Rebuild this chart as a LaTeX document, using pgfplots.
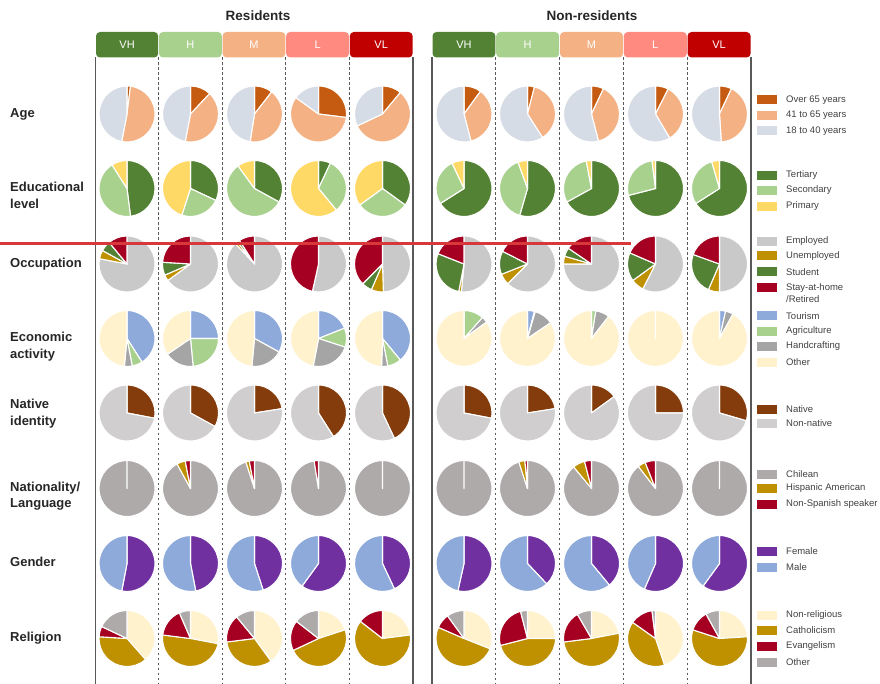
\documentclass[border=0pt]{standalone}
\usepackage{pgfplots}
\pgfplotsset{compat=1.18}
\usepackage{fontspec}
\setmainfont{Liberation Sans}

% Age
\definecolor{aOv}{HTML}{C55A11}
\definecolor{aMid}{HTML}{F4B183}
\definecolor{aYng}{HTML}{D6DCE5}
% Education
\definecolor{eTer}{HTML}{548235}
\definecolor{eSec}{HTML}{A9D18E}
\definecolor{ePri}{HTML}{FFD966}
% Occupation
\definecolor{oEmp}{HTML}{C9C9C9}
\definecolor{oUne}{HTML}{BF9000}
\definecolor{oStu}{HTML}{548235}
\definecolor{oSta}{HTML}{A50021}
% Economic activity
\definecolor{kTou}{HTML}{8EAADB}
\definecolor{kAgr}{HTML}{A9D18E}
\definecolor{kHan}{HTML}{A5A5A5}
\definecolor{kOth}{HTML}{FFF2CC}
% Native
\definecolor{nNat}{HTML}{843C0C}
\definecolor{nNon}{HTML}{D0CECE}
% Nationality
\definecolor{lChi}{HTML}{AEAAAA}
\definecolor{lHis}{HTML}{BF9000}
\definecolor{lNon}{HTML}{A50021}
% Gender
\definecolor{gFem}{HTML}{7030A0}
\definecolor{gMal}{HTML}{8EAADB}
% Religion
\definecolor{rNon}{HTML}{FFF2CC}
\definecolor{rCat}{HTML}{BF9000}
\definecolor{rEva}{HTML}{A50021}
\definecolor{rOth}{HTML}{AEAAAA}
% tabs
\definecolor{tVH}{HTML}{548235}
\definecolor{tH}{HTML}{A9D18E}
\definecolor{tM}{HTML}{F4B183}
\definecolor{tL}{HTML}{FF8B80}
\definecolor{tVL}{HTML}{C00000}
\definecolor{frame}{HTML}{595959}
\definecolor{txt}{HTML}{262626}
\definecolor{legtxt}{HTML}{404040}
\definecolor{redline}{HTML}{D9383A}

\newcommand{\drawpie}[3]{%
  \coordinate (pc) at (axis cs:#1,#2);
  \gdef\pieacc{0}%
  \foreach \c/\v in {#3}{%
    \pgfmathsetmacro{\pa}{90-\pieacc*3.6}%
    \pgfmathsetmacro{\pb}{90-(\pieacc+\v)*3.6}%
    \filldraw[fill=\c, draw=white, line width=1.1pt, line join=round]
      (pc) -- ++(\pa:28pt) arc[start angle=\pa, end angle=\pb, radius=28pt] -- cycle;
    \pgfmathsetmacro{\pn}{\pieacc+\v}%
    \xdef\pieacc{\pn}%
  }%
}

\newcommand{\legitem}[3]{% y, color, text
  \fill[#2] (axis cs:757,#1-4.5) rectangle (axis cs:777,#1+4.5);
  \node[anchor=west, inner sep=0pt, text=legtxt, font=\fontsize{9.5}{11}\selectfont] at (axis cs:786,#1) {#3};
}

\newcommand{\tab}[4]{% x1, x2, color, text
  \fill[#3, rounded corners=4pt] (axis cs:#1,32) rectangle (axis cs:#2,57.5);
  \node[text=white, font=\fontsize{11}{13}\selectfont, inner sep=0pt] at (axis cs:{(#1+#2)/2},45) {#4};
}

\begin{document}
\begin{tikzpicture}
\begin{axis}[
  scale only axis, width=880pt, height=684pt,
  xmin=0, xmax=880, ymin=0, ymax=684, y dir=reverse,
  hide axis, clip=false,
]
\pgfplotsextra{
  % frames
  \foreach \x in {158.6,222.2,285.8,349.4,495.8,559.6,623.4,687.2}{
    \draw[frame, line width=0.9pt, dash pattern=on 2.5pt off 2.5pt] (axis cs:\x,57.5) -- (axis cs:\x,684);
  }
  \foreach \x in {95.5,413,432,751}{
    \draw[frame, line width=1.4pt] (axis cs:\x,57.5) -- (axis cs:\x,684);
  }
  % tabs
  \tab{96}{158.2}{tVH}{VH}
  \tab{159}{221.8}{tH}{H}
  \tab{222.6}{285.4}{tM}{M}
  \tab{286.2}{349}{tL}{L}
  \tab{349.8}{412.6}{tVL}{VL}
  \tab{432.5}{495.4}{tVH}{VH}
  \tab{496.2}{559.2}{tH}{H}
  \tab{560}{623}{tM}{M}
  \tab{623.8}{686.8}{tL}{L}
  \tab{687.6}{750.6}{tVL}{VL}
  \node[font=\bfseries\fontsize{13.5}{16}\selectfont, text=txt] at (axis cs:258,16) {Residents};
  \node[font=\bfseries\fontsize{13.5}{16}\selectfont, text=txt] at (axis cs:592,16) {Non-residents};
  % row labels
  \begin{scope}[every node/.style={anchor=west, align=left, inner sep=0pt, text=txt, font=\bfseries\fontsize{13}{16.5}\selectfont}]
    \node at (axis cs:10,114) {Age};
    \node at (axis cs:10,195.5) {Educational\\level};
    \node at (axis cs:10,264) {Occupation};
    \node at (axis cs:10,346.5) {Economic\\activity};
    \node at (axis cs:10,413.5) {Native\\identity};
    \node at (axis cs:10,496) {Nationality/\\Language};
    \node at (axis cs:10,562) {Gender};
    \node at (axis cs:10,638) {Religion};
  \end{scope}

  % ---- Age: Over 65 / 41-65 / 18-40
  \drawpie{127}{114}{aOv/2,aMid/51,aYng/47}
  \drawpie{190.5}{114}{aOv/12,aMid/41,aYng/47}
  \drawpie{254.5}{114}{aOv/10.5,aMid/42,aYng/47.5}
  \drawpie{318.5}{114}{aOv/27,aMid/58,aYng/15}
  \drawpie{382.5}{114}{aOv/11,aMid/57,aYng/32}
  \drawpie{464}{114}{aOv/10,aMid/36,aYng/54}
  \drawpie{527.5}{114}{aOv/4,aMid/37,aYng/59}
  \drawpie{591.5}{114}{aOv/7,aMid/39,aYng/54}
  \drawpie{655.5}{114}{aOv/7.5,aMid/34,aYng/58.5}
  \drawpie{719.5}{114}{aOv/7,aMid/42,aYng/51}
  % ---- Education: Tertiary / Secondary / Primary
  \drawpie{127}{188.5}{eTer/48,eSec/43,ePri/9}
  \drawpie{190.5}{188.5}{eTer/32,eSec/23,ePri/45}
  \drawpie{254.5}{188.5}{eTer/33,eSec/57,ePri/10}
  \drawpie{318.5}{188.5}{eTer/7,eSec/32,ePri/61}
  \drawpie{382.5}{188.5}{eTer/35,eSec/30,ePri/35}
  \drawpie{464}{188.5}{eTer/66,eSec/27,ePri/7}
  \drawpie{527.5}{188.5}{eTer/54.5,eSec/40,ePri/5.5}
  \drawpie{591.5}{188.5}{eTer/67,eSec/30,ePri/3}
  \drawpie{655.5}{188.5}{eTer/71,eSec/27,ePri/2}
  \drawpie{719.5}{188.5}{eTer/66,eSec/29.5,ePri/4.5}
  % ---- Occupation: Employed / Unemployed / Student / Stay-at-home
  \drawpie{127}{264}{oEmp/78,oUne/5,oStu/6,oSta/11}
  \drawpie{190.5}{264}{oEmp/65,oUne/3.5,oStu/7.5,oSta/24}
  \drawpie{254.5}{264}{oEmp/88,oUne/1.5,oStu/1.5,oSta/9}
  \drawpie{318.5}{264}{oEmp/53.5,oSta/46.5}
  \drawpie{382.5}{264}{oEmp/49.5,oUne/7,oStu/6,oSta/37.5}
  \drawpie{464}{264}{oEmp/51.5,oUne/1.5,oStu/28,oSta/19}
  \drawpie{527.5}{264}{oEmp/62.5,oUne/6.5,oStu/13.5,oSta/17.5}
  \drawpie{591.5}{264}{oEmp/75,oUne/4.5,oStu/5,oSta/15.5}
  \drawpie{655.5}{264}{oEmp/57.5,oUne/7.5,oStu/16.5,oSta/18.5}
  \drawpie{719.5}{264}{oEmp/50,oUne/6.5,oStu/24,oSta/19.5}
  % ---- Economic activity: Tourism / Agriculture / Handcrafting / Other
  \drawpie{127}{338.5}{kTou/41,kAgr/6,kHan/4.5,kOth/48.5}
  \drawpie{190.5}{338.5}{kTou/25,kAgr/23.5,kHan/17,kOth/34.5}
  \drawpie{254.5}{338.5}{kTou/33,kHan/18.5,kOth/48.5}
  \drawpie{318.5}{338.5}{kTou/19,kAgr/11,kHan/23,kOth/47}
  \drawpie{382.5}{338.5}{kTou/39,kAgr/8,kHan/3.5,kOth/49.5}
  \drawpie{464}{338.5}{kAgr/11.5,kHan/3.5,kOth/85}
  \drawpie{527.5}{338.5}{kTou/4,kAgr/0.5,kHan/11,kOth/84.5}
  \drawpie{591.5}{338.5}{kAgr/2.5,kHan/8,kOth/89.5}
  \drawpie{655.5}{338.5}{kOth/100}
  \drawpie{719.5}{338.5}{kTou/3.5,kHan/4.5,kOth/92}
  % ---- Native identity: Native / Non-native
  \drawpie{127}{413}{nNat/28,nNon/72}
  \drawpie{190.5}{413}{nNat/33,nNon/67}
  \drawpie{254.5}{413}{nNat/22.5,nNon/77.5}
  \drawpie{318.5}{413}{nNat/41,nNon/59}
  \drawpie{382.5}{413}{nNat/43,nNon/57}
  \drawpie{464}{413}{nNat/28,nNon/72}
  \drawpie{527.5}{413}{nNat/22.5,nNon/77.5}
  \drawpie{591.5}{413}{nNat/15,nNon/85}
  \drawpie{655.5}{413}{nNat/25,nNon/75}
  \drawpie{719.5}{413}{nNat/29.5,nNon/70.5}
  % ---- Nationality: Chilean / Hispanic American / Non-Spanish speaker
  \drawpie{127}{488.5}{lChi/100}
  \drawpie{190.5}{488.5}{lChi/92,lHis/5,lNon/3}
  \drawpie{254.5}{488.5}{lChi/95,lHis/2,lNon/3}
  \drawpie{318.5}{488.5}{lChi/97.5,lNon/2.5}
  \drawpie{382.5}{488.5}{lChi/100}
  \drawpie{464}{488.5}{lChi/100}
  \drawpie{527.5}{488.5}{lChi/95,lHis/3.5,lNon/1.5}
  \drawpie{591.5}{488.5}{lChi/89,lHis/7,lNon/4}
  \drawpie{655.5}{488.5}{lChi/89.5,lHis/4.5,lNon/6}
  \drawpie{719.5}{488.5}{lChi/100}
  % ---- Gender: Female / Male
  \drawpie{127}{563.5}{gFem/53,gMal/47}
  \drawpie{190.5}{563.5}{gFem/47,gMal/53}
  \drawpie{254.5}{563.5}{gFem/45,gMal/55}
  \drawpie{318.5}{563.5}{gFem/60,gMal/40}
  \drawpie{382.5}{563.5}{gFem/43,gMal/57}
  \drawpie{464}{563.5}{gFem/53.5,gMal/46.5}
  \drawpie{527.5}{563.5}{gFem/38,gMal/62}
  \drawpie{591.5}{563.5}{gFem/39,gMal/61}
  \drawpie{655.5}{563.5}{gFem/56.5,gMal/43.5}
  \drawpie{719.5}{563.5}{gFem/60,gMal/40}
  % ---- Religion: Non-religious / Catholicism / Evangelism / Other
  \drawpie{127}{638.5}{rNon/38.5,rCat/37.5,rEva/6,rOth/18}
  \drawpie{190.5}{638.5}{rNon/28,rCat/49,rEva/16.5,rOth/6.5}
  \drawpie{254.5}{638.5}{rNon/40,rCat/33,rEva/16,rOth/11}
  \drawpie{318.5}{638.5}{rNon/20,rCat/48,rEva/17.5,rOth/14.5}
  \drawpie{382.5}{638.5}{rNon/23,rCat/62.5,rEva/14.5}
  \drawpie{464}{638.5}{rNon/31,rCat/50.5,rEva/8.5,rOth/10}
  \drawpie{527.5}{638.5}{rNon/25,rCat/46,rEva/25,rOth/4}
  \drawpie{591.5}{638.5}{rNon/22,rCat/51,rEva/18.6,rOth/8.4}
  \drawpie{655.5}{638.5}{rNon/44.8,rCat/40,rEva/13.2,rOth/2}
  \drawpie{719.5}{638.5}{rNon/24,rCat/56,rEva/12,rOth/8}

  % legends
  \legitem{100}{aOv}{Over 65 years}
  \legitem{115.5}{aMid}{41 to 65 years}
  \legitem{131}{aYng}{18 to 40 years}
  \legitem{175.5}{eTer}{Tertiary}
  \legitem{190.5}{eSec}{Secondary}
  \legitem{206.5}{ePri}{Primary}
  \legitem{241.5}{oEmp}{Employed}
  \legitem{256}{oUne}{Unemployed}
  \legitem{272}{oStu}{Student}
  \legitem{288}{oSta}{Stay-at-home}
  \node[anchor=west, inner sep=0pt, text=legtxt, font=\fontsize{9.5}{11}\selectfont] at (axis cs:786,299.5) {/Retired};
  \legitem{316}{kTou}{Tourism}
  \legitem{331}{kAgr}{Agriculture}
  \legitem{346.5}{kHan}{Handcrafting}
  \legitem{362.5}{kOth}{Other}
  \legitem{409}{nNat}{Native}
  \legitem{423.5}{nNon}{Non-native}
  \legitem{474.5}{lChi}{Chilean}
  \legitem{488.5}{lHis}{Hispanic American}
  \legitem{504.5}{lNon}{Non-Spanish speaker}
  \legitem{551.5}{gFem}{Female}
  \legitem{567}{gMal}{Male}
  \legitem{615.5}{rNon}{Non-religious}
  \legitem{630}{rCat}{Catholicism}
  \legitem{646.5}{rEva}{Evangelism}
  \legitem{662}{rOth}{Other}

  % red line
  \draw[redline, line width=3.2pt] (axis cs:0,243.3) -- (axis cs:631,243.3);
}
\end{axis}
\pgfresetboundingbox
\path[use as bounding box] (current axis.south west) rectangle (current axis.north east);
\end{tikzpicture}
\end{document}
